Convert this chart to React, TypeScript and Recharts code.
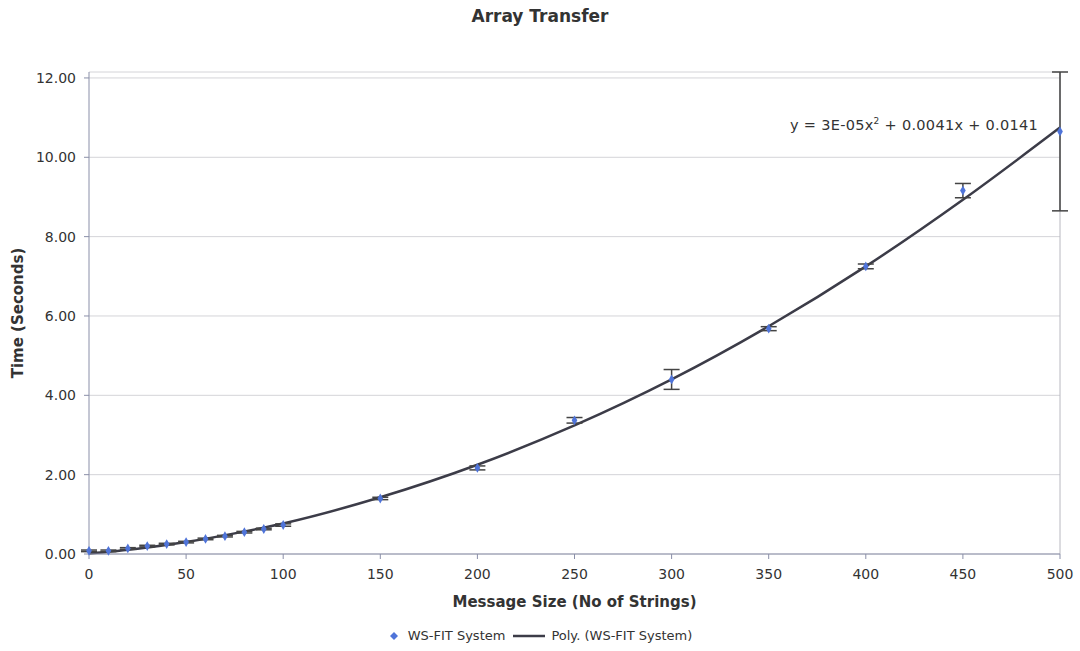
import { ComposedChart, Scatter, Line, XAxis, YAxis, ZAxis, CartesianGrid, ErrorBar, ReferenceLine } from 'recharts';

const sizes = [0, 10, 20, 30, 40, 50, 60, 70, 80, 90, 100, 150, 200, 250, 300, 350, 400, 450, 500];
const times = [0.08, 0.08, 0.14, 0.2, 0.25, 0.3, 0.38, 0.45, 0.55, 0.63, 0.73, 1.4, 2.17, 3.37, 4.4, 5.68, 7.25, 9.16, 10.65];
const errLow = [0.02, 0.02, 0.02, 0.02, 0.02, 0.02, 0.02, 0.02, 0.02, 0.02, 0.03, 0.03, 0.05, 0.07, 0.25, 0.05, 0.06, 0.18, 2.0];
const errHigh = [0.02, 0.02, 0.02, 0.02, 0.02, 0.02, 0.02, 0.02, 0.02, 0.02, 0.03, 0.03, 0.05, 0.07, 0.25, 0.05, 0.06, 0.18, 1.5];

// trend line values
const trendX = [0, 25, 50, 75, 100, 150, 200, 250, 300, 350, 400, 450, 500];
const trendY = [0.01, 0.13, 0.3, 0.52, 0.77, 1.43, 2.25, 3.24, 4.4, 5.74, 7.25, 8.93, 10.75];

const xTicks = [0, 50, 100, 150, 200, 250, 300, 350, 400, 450, 500];
const yTicks = [0, 2, 4, 6, 8, 10, 12];

const points = sizes.map((x, i) => ({ x, y: times[i], err: [errLow[i], errHigh[i]] }));
const trend = trendX.map((x, i) => ({ x, y: trendY[i] }));

const font = '"DejaVu Sans", Verdana, sans-serif';
const tickStyle = { fill: '#333', fontSize: 14, fontFamily: font };

export default function App() {
  return (
    <div style={{ position: 'absolute', left: 0, top: 0, width: 1080, height: 651, background: '#fff' }}>
      <div style={{ position: 'absolute', top: 6, width: 1080, textAlign: 'center', fontFamily: font, fontWeight: 'bold', fontSize: 17, color: '#333' }}>
        Array Transfer
      </div>
      <div style={{ position: 'absolute', left: 790, top: 116, fontFamily: font, fontSize: 14.5, letterSpacing: 0.3, color: '#333', whiteSpace: 'nowrap' }}>
        y = 3E-05x<sup style={{ fontSize: 9 }}>2</sup> + 0.0041x + 0.0141
      </div>
      <ComposedChart width={1080} height={651} margin={{ top: 72, right: 20, bottom: 67, left: 0 }}>
        <CartesianGrid vertical={false} stroke="#d4d4d8" />
        <XAxis
          type="number"
          dataKey="x"
          domain={[0, 500]}
          ticks={xTicks}
          height={30}
          stroke="#8a8fa8"
          tickSize={5}
          tick={{ ...tickStyle, dy: 8 }}
          label={{ value: 'Message Size (No of Strings)', position: 'bottom', offset: 12, fill: '#333', fontSize: 15, fontWeight: 'bold', fontFamily: font }}
        />
        <YAxis
          type="number"
          dataKey="y"
          domain={[0, 12]}
          ticks={yTicks}
          width={89}
          stroke="#8a8fa8"
          tickSize={5}
          tick={{ ...tickStyle, dx: -6 }}
          tickFormatter={(v: number) => v.toFixed(2)}
          label={{ value: 'Time (Seconds)', angle: -90, position: 'insideLeft', offset: 18, fill: '#333', fontSize: 15, fontWeight: 'bold', fontFamily: font, style: { textAnchor: 'middle' } }}
        />
        <ZAxis range={[28, 28]} />
        <ReferenceLine x={500} stroke="#b8b8c0" />
        <Line data={trend} dataKey="y" type="monotone" stroke="#3c3c48" strokeWidth={2.5} dot={false} isAnimationActive={false} />
        <Scatter data={points} dataKey="y" fill="#4f74d9" shape="diamond" isAnimationActive={false}>
          <ErrorBar dataKey="err" direction="y" width={8} stroke="#444" strokeWidth={1.5} />
        </Scatter>
      </ComposedChart>
      <div style={{ position: 'absolute', top: 628, left: 0, width: 1080, display: 'flex', justifyContent: 'center', alignItems: 'center', fontFamily: font, fontSize: 13, color: '#333' }}>
        <svg width={12} height={12} style={{ marginRight: 8 }}>
          <polygon points="6,2 10,6 6,10 2,6" fill="#4f74d9" />
        </svg>
        <span>WS-FIT System</span>
        <svg width={36} height={12} style={{ margin: '0 4px 0 6px' }}>
          <line x1={2} y1={6} x2={34} y2={6} stroke="#3c3c48" strokeWidth={2.5} />
        </svg>
        <span>Poly. (WS-FIT System)</span>
      </div>
    </div>
  );
}
